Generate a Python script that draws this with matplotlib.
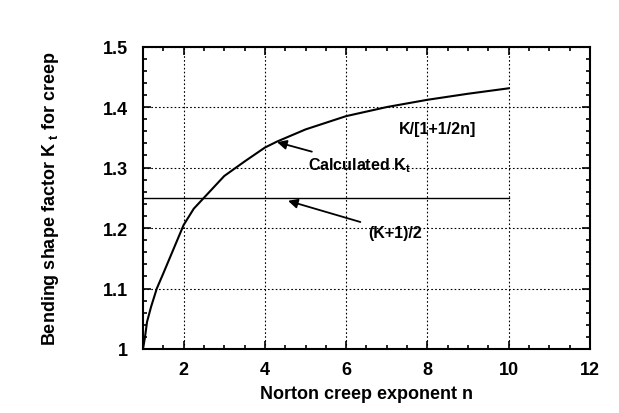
import matplotlib
matplotlib.use("Agg")
import matplotlib.pyplot as plt
from matplotlib.ticker import MultipleLocator

n_vals = [1.0, 1.05, 1.1, 1.2, 1.34, 1.5, 1.75, 2.0, 2.25, 2.5, 3.0, 3.5, 4.0, 4.3,
          5.0, 6.0, 7.0, 8.0, 9.0, 10.0]
K_vals = [1.0, 1.02, 1.045, 1.07, 1.10, 1.125, 1.165, 1.205, 1.232, 1.25, 1.286, 1.31,
          1.333, 1.343, 1.363, 1.385, 1.40, 1.412, 1.422, 1.431]
avg_n = [1.0, 10.0]
avg_K = [1.25, 1.25]

plt.rcParams['font.family'] = ['Liberation Sans', 'DejaVu Sans']
plt.rcParams['font.weight'] = 'bold'
plt.rcParams['mathtext.default'] = 'regular'

fig = plt.figure(figsize=(6.19, 4.14), dpi=100)
ax = fig.add_axes([0.231, 0.1546, 0.722, 0.7305])

ax.plot(n_vals, K_vals, color='black', lw=1.5)
ax.plot(avg_n, avg_K, color='black', lw=1.0)

ax.set_xlim(1, 12)
ax.set_ylim(1, 1.5)
ax.xaxis.set_minor_locator(MultipleLocator(0.5))
ax.yaxis.set_minor_locator(MultipleLocator(0.02))
ax.set_xticks([2, 4, 6, 8, 10, 12])
ax.set_xticklabels(['2', '4', '6', '8', '10', '12'])
ax.set_yticks([1.0, 1.1, 1.2, 1.3, 1.4, 1.5])
ax.set_yticklabels(['1', '1.1', '1.2', '1.3', '1.4', '1.5'])
ax.tick_params(which='both', direction='in', top=True, right=True, width=1.2)
ax.tick_params(which='major', length=6, labelsize=13)
ax.tick_params(axis='y', which='major', pad=11)
ax.tick_params(axis='x', which='major', pad=9)
ax.tick_params(which='minor', length=3)
for lab in ax.get_xticklabels() + ax.get_yticklabels():
    lab.set_fontweight('bold')
for s in ax.spines.values():
    s.set_linewidth(1.5)

ax.grid(True, which='major', color='black', linestyle=(0, (1.5, 2)), lw=0.8)

ax.set_xlabel('Norton creep exponent n', fontsize=13, fontweight='bold', labelpad=5)
ax.set_ylabel(r'Bending shape factor K$_{\ \mathregular{t}}$ for creep', fontsize=13,
              fontweight='bold', labelpad=30)

ax.text(8.25, 1.364, 'K/[1+1/2n]', fontsize=11.5, ha='center', va='center', fontweight='bold')
ax.annotate(r'Calculated K$_\mathregular{t}$', xy=(4.3, 1.342), xytext=(5.05, 1.305),
            fontsize=11.5, ha='left', va='center', fontweight='bold',
            arrowprops=dict(arrowstyle='-|>', color='black', lw=1.3, mutation_scale=14,
                            shrinkA=2, shrinkB=0))
ax.annotate('(K+1)/2', xy=(4.57, 1.245), xytext=(6.55, 1.193),
            fontsize=11.5, ha='left', va='center', fontweight='bold',
            arrowprops=dict(arrowstyle='-|>', color='black', lw=1.3, mutation_scale=14,
                            shrinkA=4, shrinkB=0))

fig.savefig('out.png', dpi=100)
